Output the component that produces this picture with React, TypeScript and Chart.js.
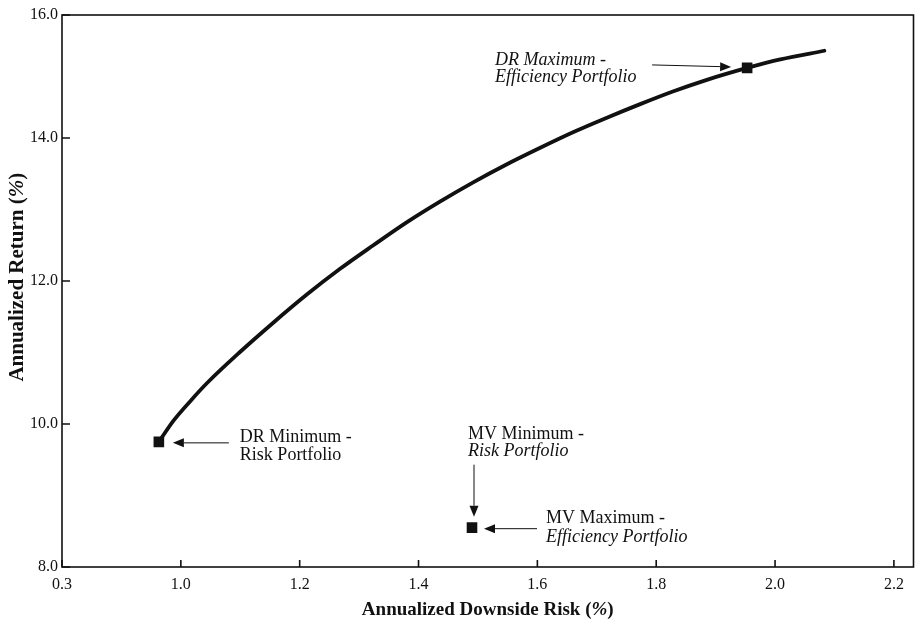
import React, { useEffect, useRef } from 'react';
import { Chart, registerables } from 'chart.js';

Chart.register(...registerables);

// Efficient frontier (downside-risk based)
const frontierRisk = [0.963, 0.988, 1.017, 1.045, 1.100, 1.156, 1.212, 1.268, 1.324, 1.380, 1.436, 1.492, 1.548, 1.604, 1.660, 1.716, 1.772, 1.828, 1.884, 1.953, 2.009, 2.083];
const frontierReturn = [9.75, 10.05, 10.33, 10.58, 11.01, 11.42, 11.81, 12.17, 12.50, 12.82, 13.11, 13.38, 13.63, 13.86, 14.08, 14.28, 14.47, 14.65, 14.81, 14.98, 15.10, 15.22];

// Highlighted portfolios
const markerNames = ['DR Minimum-Risk', 'DR Maximum-Efficiency', 'MV Portfolios'];
const markerRisk = [0.963, 1.953, 1.490];
const markerReturn = [9.75, 14.98, 8.55];

// Axis ticks (labels as printed)
const xTickValues = [0.8, 1.0, 1.2, 1.4, 1.6, 1.8, 2.0, 2.2];
const xTickLabels = ['0.3', '1.0', '1.2', '1.4', '1.6', '1.8', '2.0', '2.2'];
const yTickValues = [8, 10, 12, 14, 15.72];
const yTickLabels = ['8.0', '10.0', '12.0', '14.0', '16.0'];

const xTitle = [
  { t: 'Annualized Downside Risk (', i: false },
  { t: '%', i: true },
  { t: ')', i: false },
];
const yTitle = [
  { t: 'Annualized Return (', i: false },
  { t: '%', i: true },
  { t: ')', i: false },
];

type Line = { text: string; italic: boolean; dx: number; dy: number };
type Ann = { marker: number; arrow: [number, number, number, number]; lines: Line[] };

// Annotation layout, offsets in pixels relative to the marker
const annotations: Ann[] = [
  {
    marker: 0,
    arrow: [70, 1, 14, 1],
    lines: [
      { text: 'DR Minimum -', italic: false, dx: 81, dy: -5 },
      { text: 'Risk Portfolio', italic: false, dx: 81, dy: 13 },
    ],
  },
  {
    marker: 1,
    arrow: [-95, -3, -16, -1],
    lines: [
      { text: 'DR Maximum -', italic: true, dx: -252, dy: -8 },
      { text: 'Efficiency Portfolio', italic: true, dx: -252, dy: 9 },
    ],
  },
  {
    marker: 2,
    arrow: [2, -63, 2, -11],
    lines: [
      { text: 'MV Minimum -', italic: false, dx: -4, dy: -93 },
      { text: 'Risk Portfolio', italic: true, dx: -4, dy: -76 },
    ],
  },
  {
    marker: 2,
    arrow: [65, 1, 12, 1],
    lines: [
      { text: 'MV Maximum -', italic: false, dx: 74, dy: -9 },
      { text: 'Efficiency Portfolio', italic: true, dx: 74, dy: 10 },
    ],
  },
];

const FONT = '"Liberation Serif", "Times New Roman", serif';
const INK = '#111';

function drawMixed(ctx: CanvasRenderingContext2D, parts: { t: string; i: boolean }[], cx: number, cy: number, size: number) {
  const fontOf = (it: boolean) => `${it ? 'italic ' : ''}bold ${size}px ${FONT}`;
  let total = 0;
  for (const p of parts) {
    ctx.font = fontOf(p.i);
    total += ctx.measureText(p.t).width;
  }
  let x = cx - total / 2;
  ctx.textBaseline = 'middle';
  ctx.textAlign = 'left';
  for (const p of parts) {
    ctx.font = fontOf(p.i);
    ctx.fillText(p.t, x, cy);
    x += ctx.measureText(p.t).width;
  }
}

const decorPlugin = {
  id: 'decor',
  afterDraw(chart: any) {
    const { ctx, chartArea } = chart;
    const { left, right, top, bottom } = chartArea;
    const xs = chart.scales.x;
    const ys = chart.scales.y;
    ctx.save();
    ctx.strokeStyle = INK;
    ctx.fillStyle = INK;
    // frame
    ctx.lineWidth = 1.6;
    ctx.strokeRect(left, top, right - left, bottom - top);
    // inner tick marks
    ctx.beginPath();
    for (const v of xTickValues) {
      const px = xs.getPixelForValue(v);
      ctx.moveTo(px, bottom);
      ctx.lineTo(px, bottom - 7);
    }
    for (const v of yTickValues) {
      const py = ys.getPixelForValue(v);
      ctx.moveTo(left, py);
      ctx.lineTo(left + 8, py);
    }
    ctx.stroke();

    // annotations
    for (const a of annotations) {
      const mx = xs.getPixelForValue(markerRisk[a.marker]);
      const my = ys.getPixelForValue(markerReturn[a.marker]);
      const [tx, ty, hx, hy] = a.arrow;
      const x0 = mx + tx, y0 = my + ty, x1 = mx + hx, y1 = my + hy;
      const ang = Math.atan2(y1 - y0, x1 - x0);
      const hl = 11, hw = 4.5;
      const bx = x1 - hl * Math.cos(ang), by = y1 - hl * Math.sin(ang);
      ctx.lineWidth = 1;
      ctx.beginPath();
      ctx.moveTo(x0, y0);
      ctx.lineTo(bx, by);
      ctx.stroke();
      ctx.beginPath();
      ctx.moveTo(x1, y1);
      ctx.lineTo(bx + hw * Math.sin(ang), by - hw * Math.cos(ang));
      ctx.lineTo(bx - hw * Math.sin(ang), by + hw * Math.cos(ang));
      ctx.closePath();
      ctx.fill();
      ctx.textAlign = 'left';
      ctx.textBaseline = 'middle';
      for (const l of a.lines) {
        ctx.font = `${l.italic ? 'italic ' : ''}18px ${FONT}`;
        ctx.fillText(l.text, mx + l.dx, my + l.dy);
      }
    }

    // axis titles
    drawMixed(ctx, xTitle, (left + right) / 2, 610, 19);
    ctx.translate(18, top + (bottom - top) * 0.475);
    ctx.rotate(-Math.PI / 2);
    drawMixed(ctx, yTitle, 0, 0, 21);
    ctx.restore();
  },
};

export default function App() {
  const ref = useRef<HTMLCanvasElement>(null);
  useEffect(() => {
    document.body.style.margin = '0';
    const canvas = ref.current;
    if (!canvas) return;
    const chart = new Chart(canvas, {
      type: 'scatter',
      data: {
        datasets: [
          {
            label: 'Portfolios',
            data: markerRisk.map((x, i) => ({ x, y: markerReturn[i] })),
            pointStyle: 'rect',
            pointRadius: 7.5,
            pointHoverRadius: 7.5,
            backgroundColor: INK,
            borderColor: INK,
            borderWidth: 0,
            showLine: false,
            order: 1,
          } as any,
          {
            label: 'DR Efficient Frontier',
            data: frontierRisk.map((x, i) => ({ x, y: frontierReturn[i] })),
            showLine: true,
            borderColor: INK,
            borderWidth: 3.8,
            pointRadius: 0,
            cubicInterpolationMode: 'monotone',
            borderCapStyle: 'round',
            order: 2,
          } as any,
        ],
      },
      options: {
        responsive: false,
        animation: false,
        events: [],
        layout: { padding: { left: 0, top: 15, right: 4, bottom: 0 } },
        plugins: { legend: { display: false }, tooltip: { enabled: false } },
        scales: {
          x: {
            type: 'linear',
            min: 0.8,
            max: 2.233,
            afterBuildTicks: (s: any) => {
              s.ticks = xTickValues.map((v) => ({ value: v }));
            },
            afterFit: (s: any) => {
              s.height = 57;
            },
            ticks: {
              autoSkip: false,
              maxRotation: 0,
              padding: 8,
              color: INK,
              font: { family: FONT, size: 16 },
              callback: (_v: any, i: number) => xTickLabels[i],
            },
            grid: { display: false, drawTicks: false },
            border: { display: false },
          },
          y: {
            type: 'linear',
            min: 8,
            max: 15.72,
            afterBuildTicks: (s: any) => {
              s.ticks = yTickValues.map((v) => ({ value: v }));
            },
            afterFit: (s: any) => {
              s.width = 62;
            },
            ticks: {
              autoSkip: false,
              padding: 4,
              color: INK,
              font: { family: FONT, size: 16 },
              callback: (_v: any, i: number) => yTickLabels[i],
            },
            grid: { display: false, drawTicks: false },
            border: { display: false },
          },
        },
      } as any,
      plugins: [decorPlugin],
    });
    return () => chart.destroy();
  }, []);
  return (
    <div style={{ width: 921, height: 624, background: '#fff' }}>
      <canvas ref={ref} width={921} height={624} style={{ display: 'block', width: 921, height: 624 }} />
    </div>
  );
}
